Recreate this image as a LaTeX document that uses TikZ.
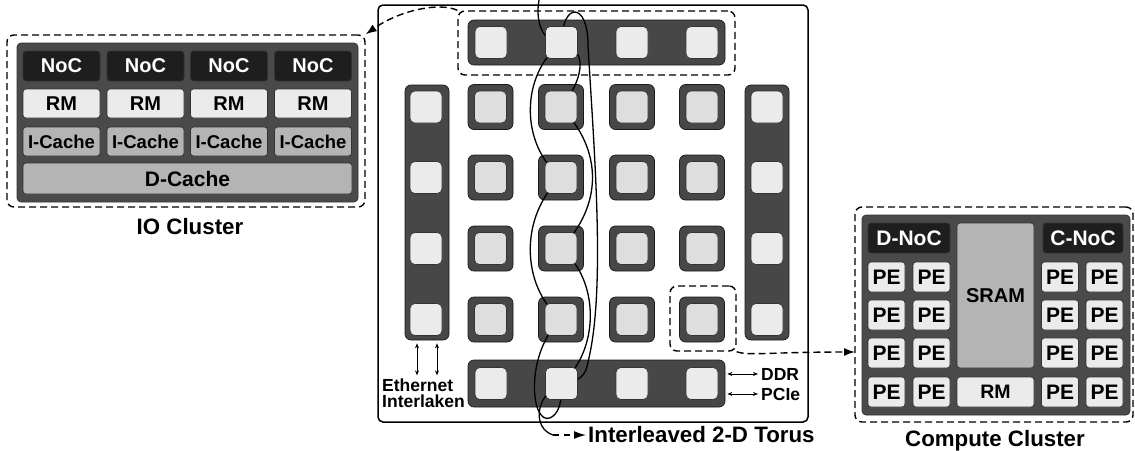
\documentclass[tikz,border=0pt]{standalone}
\usepackage{fontspec}
\setmainfont{Liberation Sans}
\usetikzlibrary{arrows.meta,calc}
\definecolor{panel}{HTML}{4A4A4A}
\definecolor{darkbox}{HTML}{1E1E1E}
\definecolor{lightbox}{HTML}{EBEBEB}
\definecolor{midbox}{HTML}{B4B4B4}
\definecolor{tiledark}{HTML}{474747}
\definecolor{gridsq}{HTML}{DEDEDE}
\definecolor{barsq}{HTML}{EBEBEB}
\newcommand{\fsz}[1]{\fontsize{#1}{#1}\selectfont\bfseries}
\pgfdeclarelayer{bg}
\pgfdeclarelayer{wirelayer}
\pgfsetlayers{bg,wirelayer,main}
\begin{document}
\begin{tikzpicture}[x=1pt,y=-1pt,
 blk/.style={draw=black!80, line width=0.7pt, rounded corners=3pt, inner sep=0pt},
 panelbox/.style={blk, fill=panel, rounded corners=4pt},
 nocbox/.style={blk, fill=darkbox, text=white},
 litebox/.style={blk, fill=lightbox},
 graybox/.style={blk, fill=midbox},
 tilebox/.style={draw=black!90, line width=0.7pt, fill=tiledark, rounded corners=6pt, minimum width=45pt, minimum height=45pt, inner sep=0pt},
 barbox/.style={draw=black!90, line width=0.7pt, fill=tiledark, rounded corners=6pt, inner sep=0pt},
 gsq/.style={draw=black!80, line width=0.6pt, fill=gridsq, rounded corners=5pt, minimum width=32pt, minimum height=32pt, inner sep=0pt},
 bsq/.style={gsq, fill=barsq},
 dashbox/.style={draw, dash pattern=on 7pt off 4pt, line width=1.4pt, rounded corners=7pt, inner sep=0pt},
 dasharrow/.style={dash pattern=on 7pt off 4pt, line width=1.4pt, -{Latex[length=11pt,width=8pt]}},
 wire/.style={line width=1.3pt},
 dbl/.style={line width=0.7pt, {Stealth[length=5pt,width=4pt]}-{Stealth[length=5pt,width=4pt]}},
 biglbl/.style={inner sep=0pt, font=\fsz{22.3}},
 smalllbl/.style={inner sep=0pt, font=\fsz{17.5}},
]
\useasboundingbox (0,0) rectangle (1135,450);

% ---------------- IO cluster ----------------
\node[dashbox, minimum width=358pt, minimum height=172pt] (iodash) at (186,121) {};
\node[panelbox, minimum width=341pt, minimum height=159pt] (iopanel) at (187.5,122.5) {};
\foreach \i/\x in {1/61.5,2/145.5,3/229,4/313} {
  \node[nocbox, minimum width=77pt, minimum height=30pt, font=\fsz{20}] (noc\i) at (\x,66) {NoC};
  \node[litebox, minimum width=77pt, minimum height=29pt, font=\fsz{20}] (rm\i) at (\x,103.5) {RM};
  \node[graybox, minimum width=77pt, minimum height=29pt, font=\fsz{18.5}] (ic\i) at (\x,141.5) {I-Cache};
}
\node[graybox, minimum width=329pt, minimum height=31pt, font=\fsz{21}] (dc) at (187.5,178.5) {D-Cache};
\node[biglbl, anchor=base] (iolbl) at (190,234.5) {IO Cluster};

% ---------------- Compute cluster ----------------
\node[dashbox, minimum width=278pt, minimum height=215pt] (cdash) at (994,314.5) {};
\node[panelbox, minimum width=268pt, minimum height=200pt] (cpanel) at (996,315) {};
\node[nocbox, minimum width=82pt, minimum height=30pt, font=\fsz{21}] (dnoc) at (909,238) {D-NoC};
\node[nocbox, minimum width=80pt, minimum height=30pt, font=\fsz{21}] (cnoc) at (1083,238) {C-NoC};
\node[graybox, minimum width=77pt, minimum height=145pt, font=\fsz{20}] (sram) at (995.5,295.5) {SRAM};
\node[litebox, minimum width=77pt, minimum height=30pt, font=\fsz{19.5}] (crm) at (995.5,392) {RM};
\foreach \c/\x in {1/886.5,2/931.5,3/1060,4/1104.5} {
  \foreach \r/\y in {1/277,2/315,3/353,4/392} {
    \node[litebox, minimum width=37pt, minimum height=30pt, font=\fsz{21}] (pe\r\c) at (\x,\y) {PE};
  }
}
\node[biglbl, anchor=base] (cclbl) at (995,446) {Compute Cluster};

% ---------------- Chip ----------------
\begin{pgfonlayer}{bg}
\fill[white] (0,0) rectangle (1135,450);
\node[draw, line width=1.5pt, rounded corners=5pt, minimum width=430pt, minimum height=417pt, inner sep=0pt] (chip) at (593,213.5) {};
\node[dashbox, minimum width=277pt, minimum height=64pt] (topdash) at (596.5,43) {};
\node[dashbox, minimum width=66pt, minimum height=65pt] (tdash) at (703,318.5) {};
\node[barbox, minimum width=257pt, minimum height=45pt] (tbar) at (596.5,42.5) {};
\node[barbox, minimum width=257pt, minimum height=47pt] (bbar) at (596.5,383.5) {};
\node[barbox, minimum width=44pt, minimum height=255pt] (lbar) at (427,212.5) {};
\node[barbox, minimum width=44pt, minimum height=255pt] (rbar) at (767,212.5) {};
\foreach \r/\y in {1/107,2/177.5,3/248.5,4/319.5} {
  \foreach \c/\x in {1/490.5,2/561,3/632,4/702} {
    \node[tilebox] (t\r\c) at (\x,\y) {};
  }
}
\end{pgfonlayer}

\foreach \c/\x in {1/491,2/561.5,3/632,4/702} {
  \node[bsq] (tb\c) at (\x,42.5) {};
  \node[bsq] (bb\c) at (\x,383.5) {};
}
\foreach \r/\y in {1/107,2/177.5,3/248.5,4/319.5} {
  \node[bsq] (lb\r) at (426,\y) {};
  \node[bsq] (rb\r) at (767,\y) {};
  \foreach \c/\x in {1/490.5,2/561,3/632,4/702} {
    \node[gsq] (s\r\c) at (\x,\y) {};
  }
}

% ---------------- Torus wires ----------------
\coordinate (topexit) at (539,0);
\coordinate (botexit) at (553,435);
\begin{pgfonlayer}{wirelayer}
\draw[wire] (tb2.center) .. controls (543,44) and (535,22) .. (topexit);
% long wrap-around link
\draw[wire] (tb2.center) .. controls (562,2) and (588,1) .. (588,45)
  .. controls (594,150) and (606,290) .. (588,362)
  .. controls (586,375) and (580,382) .. (bb2.center);
% right-bulging chain
\draw[wire] (tb2.center) .. controls (592,50) and (580,85) .. (s12.center);
\draw[wire] (s12.center) .. controls (603,150) and (603,205) .. (s32.center);
\draw[wire] (s32.center) .. controls (600,280) and (600,350) .. (bb2.center);
% left-bulging chain
\draw[wire] (tb2.center) .. controls (520,75) and (520,145) .. (s22.center);
\draw[wire] (s22.center) .. controls (520,215) and (520,285) .. (s42.center);
\draw[wire] (s42.center) .. controls (525,352) and (530,425) .. (550,418)
  .. controls (558,414) and (562,405) .. (bb2.center);
% exit at the bottom
\draw[wire] (bb2.center) .. controls (535,395) and (532,428) .. (botexit);
\end{pgfonlayer}

\node[biglbl, anchor=base west] (torus) at (588,442) {Interleaved 2-D Torus};
\draw[line width=1.3pt, dash pattern=on 6pt off 5pt, -{Latex[length=12pt,width=8pt]}, shorten >=2pt] (botexit) -- (botexit -| torus.west);

% ---------------- IO labels ----------------
\node[smalllbl, anchor=base west] (eth) at (382,391) {Ethernet};
\node[smalllbl, anchor=base west] (ilk) at (382,407) {Interlaken};
\node[smalllbl, anchor=base west] (ddr) at (761,380) {DDR};
\node[smalllbl, anchor=base west] (pcie) at (761,400) {PCIe};
\draw[dbl] ($(lbar.south)+(-10,3)$) -- ($(lbar.south)+(-10,35)$);
\draw[dbl] ($(lbar.south)+(10,3)$) -- ($(lbar.south)+(10,35)$);
\path (bbar.east |- ddr.west) ++(2,0) coordinate (ddrA);
\path (bbar.east |- pcie.west) ++(2,0) coordinate (pcieA);
\draw[dbl, shorten >=3pt] (ddrA) -- (ddr.west);
\draw[dbl, shorten >=3pt] (pcieA) -- (pcie.west);

% ---------------- dashed arrows ----------------
\draw[dasharrow] (topdash.north west) .. controls (440,2) and (400,10) .. (iodash.north east);
\coordinate (cin) at (855,352);
\draw[dasharrow] (tdash.south east) .. controls (748,356) and (770,352) .. (cin);
\end{tikzpicture}
\end{document}
